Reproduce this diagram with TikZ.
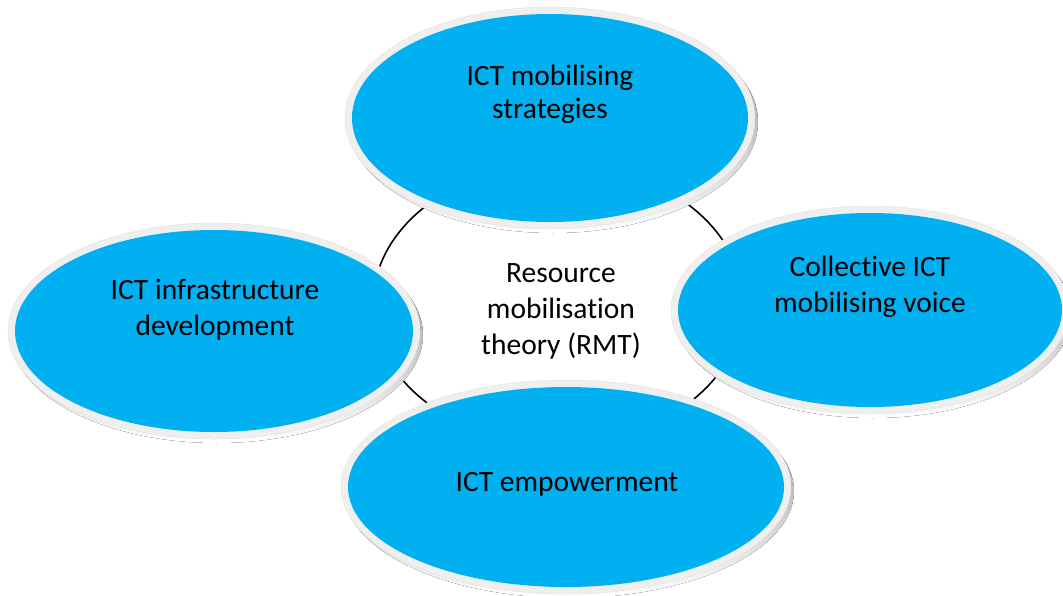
\documentclass[tikz,border=0pt]{standalone}
\usepackage{fontspec}
\setmainfont{Carlito}[Ligatures=NoCommon]
\usetikzlibrary{shapes.geometric}
\definecolor{bubble}{HTML}{00B0F0}
\definecolor{rim}{HTML}{EFEFEF}
\definecolor{rimedge}{HTML}{E4E4E4}
\definecolor{shade}{HTML}{97A1B5}
\tikzset{
  label text/.style={align=center, inner sep=0pt,
    font=\fontsize{29.5}{36}\selectfont, text=black},
  hub/.style={draw=black, line width=1.6pt},
}
% one bubble: soft shadow, pale rim, blue body
\newcommand{\bubbleat}[4]{% name, centre, x radius, y radius
  \fill[shade] ([xshift=3pt,yshift=-4pt]#2) ellipse [x radius=#3+7, y radius=#4+7];
  \fill[rim, draw=rimedge, line width=0.5pt] (#2) ellipse [x radius=#3+7, y radius=#4+7];
  \node[ellipse, fill=bubble, inner sep=0pt, minimum width=2*#3, minimum height=2*#4] (#1) at (#2) {};
}
\begin{document}
\begin{tikzpicture}[x=1pt, y=-1pt]
  \useasboundingbox (0,0) rectangle (1063,595);
  % central theory ring behind the bubbles
  \coordinate (hubc) at (558,304);
  \draw[hub] (hubc) ellipse [x radius=185, y radius=140];
  \node[label text] (rmt) at (561,311) {Resource\\mobilisation\\theory (RMT)};

  \bubbleat{infra}{214,331}{199}{101}
  \bubbleat{strat}{550,118}{198}{104}
  \bubbleat{voice}{870,310}{192}{97}
  \bubbleat{empow}{566,487}{218}{100}

  \node[label text, font=\fontsize{29.5}{33}\selectfont] (stratT) at (550,94) {ICT mobilising\\strategies};
  \node[label text] (infraT) at (215,310) {ICT infrastructure\\development};
  \node[label text] (voiceT) at (870,287) {Collective ICT\\mobilising voice};
  \node[label text] (empowT) at (567,484) {ICT empowerment};
\end{tikzpicture}
\end{document}
